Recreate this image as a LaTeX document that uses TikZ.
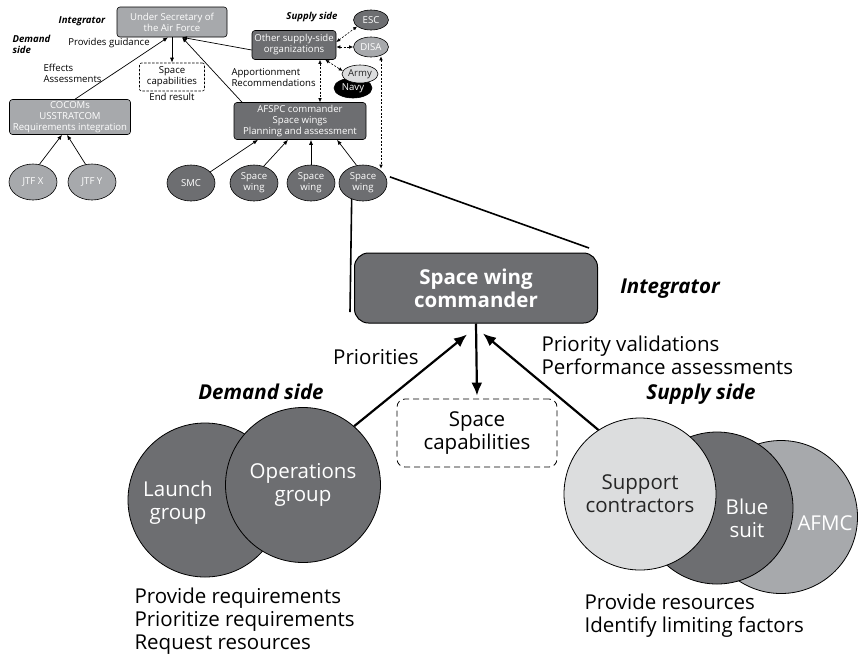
\documentclass[tikz,border=0pt]{standalone}
\usepackage{fontspec}
\setmainfont{Open Sans}
\usetikzlibrary{shapes.geometric,arrows.meta}

\definecolor{darkfill}{HTML}{6D6E71}
\definecolor{midfill}{HTML}{A7A9AC}
\definecolor{lightfill}{HTML}{DCDDDE}
\newcommand{\smalltxt}{\fontsize{9.6}{11}\selectfont}
\newcommand{\bigtxt}{\fontsize{20.5}{23}\selectfont}

\begin{document}
\begin{tikzpicture}[x=1pt, y=-1pt,
    sbox/.style={draw, rounded corners=3pt, text=white, align=center, font=\smalltxt, inner sep=1pt, line width=0.6pt},
    sell/.style={ellipse, draw, text=white, align=center, font=\smalltxt, inner sep=0pt, minimum width=48pt, minimum height=36pt, line width=0.6pt},
    slabel/.style={font=\smalltxt, align=left},
    sside/.style={font=\smalltxt\bfseries\itshape, align=left},
    sarrow/.style={line width=0.7pt, -{Latex[length=5pt,width=4pt]}},
    sdash/.style={line width=0.6pt, dashed, dash pattern=on 2pt off 1.5pt, {Latex[length=4pt,width=3.5pt]}-{Latex[length=4pt,width=3.5pt]}},
    blabel/.style={font=\bigtxt, align=left},
    bside/.style={font=\bigtxt\bfseries\itshape},
    barrow/.style={line width=2.2pt, -{Latex[length=13pt,width=11pt]}},
    grp/.style={circle, draw, line width=0.8pt, text=white, align=center, font=\bigtxt}]
\useasboundingbox (0,0) rectangle (859,657);

% top: overall structure
\node[sbox, fill=midfill, minimum width=110pt, minimum height=30pt] (usaf) at (172,22) {Under Secretary of\\the Air Force};
\node[sbox, fill=midfill, minimum width=121pt, minimum height=35pt] (cocom) at (70,117) {COCOMs\\USSTRATCOM\\Requirements integration};
\node[sbox, fill=darkfill, minimum width=84pt, minimum height=29pt] (other) at (294,45) {Other supply-side\\organizations};
\node[sbox, fill=darkfill, minimum width=132pt, minimum height=37pt] (afspc) at (300,121) {AFSPC commander\\Space wings\\Planning and assessment};
\node[draw, dashed, dash pattern=on 2.5pt off 1.5pt, rounded corners=2pt, align=center, font=\smalltxt, inner sep=1pt, minimum width=65pt, minimum height=28pt, line width=0.6pt] (endcap) at (172,77) {Space\\capabilities};
\node[font=\smalltxt] (endres) at (172,97) {End result};

\node[sell, fill=midfill] (jtfx) at (33,182) {JTF X};
\node[sell, fill=midfill] (jtfy) at (92,182) {JTF Y};
\node[sell, fill=darkfill] (smc) at (191,183) {SMC};
\node[sell, fill=darkfill] (sw1) at (254,183) {Space\\wing};
\node[sell, fill=darkfill] (sw2) at (311,183) {Space\\wing};
\node[sell, fill=darkfill] (sw3) at (363,183) {Space\\wing};

\node[sell, fill=darkfill, minimum width=35pt, minimum height=20pt] (esc) at (371,20) {ESC};
\node[sell, fill=midfill, minimum width=35pt, minimum height=20pt] (disa) at (371,47) {DISA};
\node[sell, fill=black, minimum width=38pt, minimum height=20pt] (navy) at (353,88) {Navy};
\node[sell, fill=lightfill, text=black!85, minimum width=36pt, minimum height=18pt] (army) at (360,74) {Army};

\node[sside] (intsmall) at (82,21) {Integrator};
\node[sside, anchor=west] (demsmall) at (9,44) {Demand\\side};
\node[sside] (supsmall) at (312,17) {Supply side};
\node[slabel] (guide) at (109,43) {Provides guidance};
\node[slabel, anchor=west] (effects) at (40,73) {Effects\\Assessments};
\node[slabel, anchor=west] (appor) at (228,78) {Apportionment\\Recommendations};

\draw[sarrow] ([xshift=5pt]cocom.north) -- ([xshift=-4pt]usaf.south);
\draw[sarrow] (usaf.south) -- (endcap.north);
\draw[sarrow] ([xshift=-58pt]afspc.north) -- ([xshift=10pt]usaf.south);
\draw[sarrow] ([yshift=-5pt]other.west) -- ([xshift=10pt]usaf.south);
\draw[sarrow] (jtfx.70) -- ([xshift=-8pt]cocom.south);
\draw[sarrow] (jtfy.110) -- ([xshift=-3pt]cocom.south);
\draw[sarrow] (smc.30) -- ([xshift=-42pt]afspc.south);
\draw[sarrow] (sw1.60) -- ([xshift=-12pt]afspc.south);
\draw[sarrow] (sw2.north) -- (sw2.north |- afspc.south);
\draw[sarrow] (sw3.110) -- ([xshift=37pt]afspc.south);

\draw[sdash] ([yshift=3pt]other.east) -- (esc.205);
\draw[sdash] (other.east |- disa.west) -- (disa.west);
\draw[sdash] ([xshift=-11pt]other.south east) -- (army.170);
\draw[sdash] ([xshift=26pt]other.south) -- ([xshift=20pt]afspc.north);
\draw[sdash] ([xshift=10pt,yshift=1pt]disa.south) -- ([xshift=18pt,yshift=-4pt]sw3.north);

% zoom onto one space wing
\coordinate (zoomL) at (350,312);
\coordinate (zoomR) at (589,248);
\draw[line width=1.6pt] (sw3.235) -- (zoomL);
\draw[line width=1.6pt] ([xshift=4pt]sw3.15) -- (zoomR);

\node[draw, line width=1pt, rounded corners=14pt, fill=darkfill, text=white, align=center, font=\bigtxt\bfseries, minimum width=243pt, minimum height=70pt] (cmdr) at (476,288) {Space wing\\commander};
\node[draw, dashed, dash pattern=on 6pt off 4pt, line width=0.8pt, rounded corners=8pt, align=center, font=\bigtxt, minimum width=160pt, minimum height=68pt] (cap) at (477,433) {Space\\capabilities};

% demand side
\node[grp, fill=darkfill, minimum size=154pt] (launch) at (205,500) {};
\node[grp, fill=darkfill, minimum size=155pt] (ops) at (303,485) {Operations\\group};
\node[text=white, align=center, font=\bigtxt] (launchtxt) at (178,503) {Launch\\group};

% supply side
\node[grp, fill=midfill, minimum size=153pt] (afmc) at (781,517) {};
\node[grp, fill=darkfill, minimum size=152pt] (blue) at (717,508) {};
\node[grp, fill=lightfill, text=black!85, minimum size=152pt] (sup) at (640,494) {Support\\contractors};
\node[text=white, align=center, font=\bigtxt] (bluetxt) at (747,518) {Blue\\suit};
\node[text=white, font=\bigtxt] (afmctxt) at (825,523) {AFMC};

\node[bside] (intbig) at (670,289) {Integrator};
\node[bside] (dembig) at (261,392) {Demand side};
\node[bside] (supbig) at (701,394) {Supply side};
\node[blabel] (prio) at (376,357) {Priorities};
\node[blabel, anchor=west] (valid) at (538,355) {Priority validations\\Performance assessments};
\node[blabel, anchor=west] (demlist) at (131,621) {Provide requirements\\Prioritize requirements\\Request resources};
\node[blabel, anchor=west] (suplist) at (581,616) {Provide resources\\Identify limiting factors};

\draw[barrow] (ops.49) -- ([xshift=-9pt,yshift=-11pt]cmdr.south);
\draw[barrow] (sup.123) -- ([xshift=7pt,yshift=-10pt]cmdr.south);
\draw[barrow] (cmdr.south) -- ([yshift=3pt]cap.north);
\end{tikzpicture}
\end{document}
